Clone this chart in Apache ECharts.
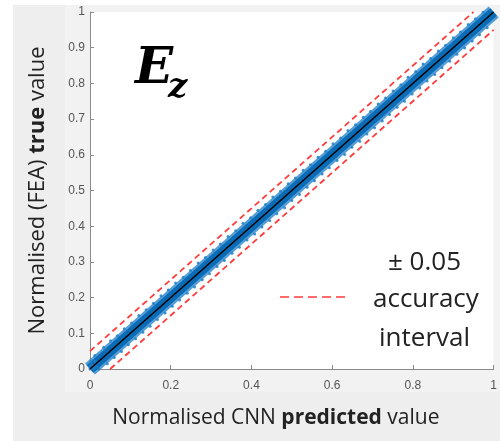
<!DOCTYPE html>
<html>
	<head>
		<meta charset="utf-8">
		<style>
			html, body { margin: 0; padding: 0; background: #fff; }
			#main { width: 500px; height: 441px; }
		</style>
	</head>
	<body>
		<div id="main"></div>
	</body>
	<script src="https://cdn.jsdelivr.net/npm/echarts@6/dist/echarts.min.js"></script>
	<script type="text/javascript">
		// 轴刻度
		var xTickStep = 0.2;
		var yTickStep = 0.1;

		// 理想线 y = x 与 ±0.05 精度区间
		var idealLine = [[0, 0], [1, 1]];
		var upperBound = [[0, 0.05], [0.95, 1]];
		var lowerBound = [[0.05, 0], [1, 0.95]];

		// 带状散点的外缘
		var upperPts = [[0.012,0.038],[0.034,0.061],[0.051,0.079],[0.068,0.093],[0.085,0.113],[0.103,0.129],[0.121,0.150],[0.139,0.166],[0.157,0.184],[0.176,0.205],[0.194,0.221],[0.212,0.241],[0.231,0.257],[0.249,0.276],[0.268,0.297],[0.286,0.312],[0.305,0.333],[0.323,0.350],[0.342,0.371],[0.361,0.387],[0.379,0.408],[0.398,0.424],[0.416,0.445],[0.435,0.461],[0.453,0.482],[0.472,0.498],[0.491,0.519],[0.509,0.535],[0.528,0.557],[0.546,0.572],[0.565,0.593],[0.584,0.610],[0.602,0.631],[0.621,0.647],[0.639,0.668],[0.658,0.684],[0.677,0.705],[0.695,0.721],[0.714,0.742],[0.732,0.759],[0.751,0.779],[0.770,0.796],[0.788,0.817],[0.807,0.833],[0.825,0.854],[0.844,0.870],[0.863,0.891],[0.881,0.907],[0.900,0.928],[0.918,0.944],[0.937,0.965],[0.955,0.981],[0.974,0.999]];
		var lowerPts = [[0.022,0.000],[0.043,0.015],[0.060,0.032],[0.078,0.049],[0.095,0.068],[0.113,0.085],[0.131,0.103],[0.149,0.120],[0.167,0.139],[0.186,0.157],[0.204,0.176],[0.222,0.193],[0.241,0.212],[0.259,0.230],[0.278,0.250],[0.296,0.267],[0.315,0.287],[0.333,0.304],[0.352,0.324],[0.370,0.341],[0.389,0.361],[0.408,0.378],[0.426,0.398],[0.445,0.416],[0.463,0.435],[0.482,0.452],[0.500,0.472],[0.519,0.489],[0.538,0.509],[0.556,0.527],[0.575,0.546],[0.593,0.564],[0.612,0.584],[0.631,0.601],[0.649,0.621],[0.668,0.638],[0.686,0.658],[0.705,0.676],[0.724,0.695],[0.742,0.713],[0.761,0.733],[0.779,0.750],[0.798,0.770],[0.817,0.787],[0.835,0.807],[0.854,0.825],[0.872,0.844],[0.891,0.862],[0.909,0.882],[0.928,0.899],[0.947,0.919],[0.965,0.936],[0.984,0.956]];
		var originPts = [[0,0],[0.004,0.012],[0.010,0.003],[0.002,0.020],[0.016,0.008],[0.007,0.000],[0.000,0.008],[0.020,0.018],[0.012,0.022]];

		var myChart = echarts.init(document.getElementById('main'));

		var blue = '#0a6cb6';
		var red = '#ff3b3b';
		var font = 'Open Sans';

		var option = {
			backgroundColor: '#fff',
			animation: false,
			grid: {
				left: 90, right: 3, top: 12, bottom: 72,
				show: true, backgroundColor: '#fff', borderWidth: 0
			},
			xAxis: {
				type: 'value', min: 0, max: 1, interval: xTickStep,
				name: '{a|Normalised CNN }{b|predicted}{a| value}',
				nameLocation: 'middle', nameGap: 39,
				nameTextStyle: {
					padding: [0, 32, 0, 0],
					rich: {
						a: { fontFamily: font, fontSize: 21, color: '#222' },
						b: { fontFamily: font, fontSize: 21, color: '#222', fontWeight: 'bold' }
					}
				},
				axisLine: { lineStyle: { color: '#8a8a8a' } },
				axisTick: { inside: true, length: 4, lineStyle: { color: '#8a8a8a' } },
				axisLabel: { color: '#555', fontSize: 12, fontFamily: 'Liberation Sans', margin: 11 },
				splitLine: { show: false }
			},
			yAxis: {
				type: 'value', min: 0, max: 1, interval: yTickStep,
				name: '{a|Normalised (FEA) }{b|true}{a| value}',
				nameLocation: 'middle', nameGap: 41,
				nameTextStyle: {
					rich: {
						a: { fontFamily: font, fontSize: 22, color: '#222' },
						b: { fontFamily: font, fontSize: 22, color: '#222', fontWeight: 'bold' }
					}
				},
				axisLine: { show: true, lineStyle: { color: '#8a8a8a' } },
				axisTick: { show: true, inside: true, length: 4, lineStyle: { color: '#8a8a8a' } },
				axisLabel: { color: '#555', fontSize: 12, fontFamily: 'Liberation Sans', margin: 5 },
				splitLine: { show: false }
			},
			graphic: [
				{ type: 'rect', z: -10, silent: true, shape: { x: 13, y: 5, width: 487, height: 436 }, style: { fill: '#eeeeee' } },
				{ type: 'rect', z: -9, silent: true, shape: { x: 65, y: 5, width: 435, height: 387 }, style: { fill: '#f2f2f2' } },
				{ type: 'text', left: 135, top: 45, z: 100, style: { text: 'E', fontFamily: 'DejaVu Serif', fontStyle: 'italic', fontWeight: 'bold', fontSize: 50, fill: '#000' } },
				{ type: 'text', left: 168, top: 71, z: 100, style: { text: 'z', fontFamily: 'DejaVu Serif', fontStyle: 'italic', fontWeight: 'bold', fontSize: 34, fill: '#000' } },
				{ type: 'text', left: 388, top: 250, z: 100, style: { text: '± 0.05', fontFamily: font, fontSize: 26, fill: '#222' } },
				{ type: 'line', z: 100, shape: { x1: 280, y1: 297, x2: 348, y2: 297 }, style: { stroke: red, lineWidth: 1.3, lineDash: [9, 5] } },
				{ type: 'text', left: 373, top: 287, z: 100, style: { text: 'accuracy', fontFamily: font, fontSize: 26, fill: '#222' } },
				{ type: 'text', left: 379, top: 326, z: 100, style: { text: 'interval', fontFamily: font, fontSize: 26, fill: '#222' } }
			],
			series: [
				{
					type: 'line', data: idealLine, symbol: 'none', z: 1,
					lineStyle: { color: 'rgba(30,125,200,0.75)', width: 15, cap: 'butt' }
				},
				{
					type: 'line', data: idealLine, symbol: 'none', z: 2,
					lineStyle: { color: blue, width: 10, cap: 'butt' }
				},
				{
					type: 'scatter', data: upperPts.concat(lowerPts).concat(originPts), z: 3,
					symbolSize: 3, itemStyle: { color: '#1f7fc6', opacity: 0.85 }
				},
				{
					type: 'line', data: idealLine, symbol: 'none', z: 4,
					lineStyle: { color: '#000', width: 1.6 }
				},
				{
					type: 'line', data: upperBound, symbol: 'none', z: 5,
					lineStyle: { color: red, width: 1.8, type: [6, 4] }
				},
				{
					type: 'line', data: lowerBound, symbol: 'none', z: 5,
					lineStyle: { color: red, width: 1.8, type: [6, 4] }
				}
			]
		};

		myChart.setOption(option);
	</script>
</html>
